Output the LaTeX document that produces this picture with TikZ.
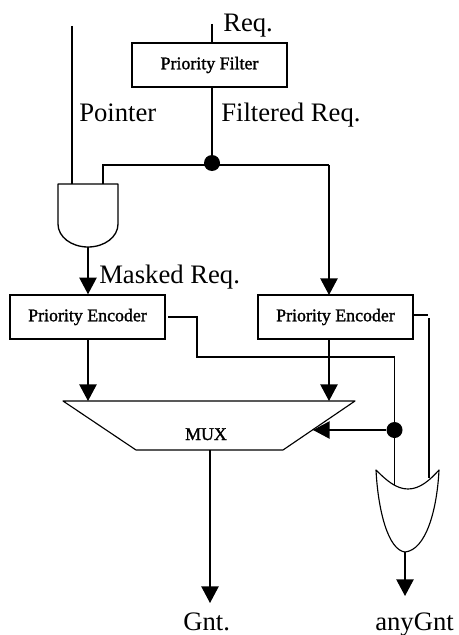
\documentclass[tikz,border=0pt]{standalone}
\usepackage{fontspec}
\setmainfont{Liberation Serif}
\newfontfamily\blockfont[FakeBold=1.5]{Liberation Serif}
\usetikzlibrary{arrows.meta,positioning,calc}
\tikzset{
  >={Triangle[length=12.5pt,width=13pt]},
  wire/.style={line width=1.1pt,color=black},
  flow/.style={wire,->},
  gate/.style={line width=.85pt,line join=round},
  block/.style={draw,line width=1.1pt,minimum width=116pt,minimum height=33pt,inner sep=0pt,font=\blockfont\fontsize{13.4}{15}\selectfont},
  junction/.style={circle,fill=black,minimum size=12pt,inner sep=0pt},
  tag/.style={anchor=base west,inner sep=0pt,font=\fontsize{20}{24}\selectfont},
}

\begin{document}
\begin{tikzpicture}[x=.75pt,y=-.75pt]
  \useasboundingbox (0,0) rectangle (458,635);

  \node[block] (filter) at (209.5,65) {Priority Filter};
  \node[block] (encl) at (87.5,317) {Priority Encoder};
  \node[block] (encr) at (335.5,317) {Priority Encoder};
  \node[anchor=base,inner sep=0pt,font=\blockfont\fontsize{13.4}{15}\selectfont] (muxlabel) at (206,440) {MUX};

  \node[junction] (fork) at (212,163) {};
  \node[junction] (sel) at (394.5,430) {};

  \coordinate (reqtop) at (212,24);
  \coordinate (reqin) at (212,43);
  \coordinate (ptrtop) at (72,26);
  \coordinate (andptr) at (72,184);
  \coordinate (andreq) at (103,184);
  \coordinate (andout) at (88,247);
  \coordinate (forkl) at (103,165);
  \coordinate (forkr) at (329,165);
  \coordinate (encrin) at (329,295);
  \coordinate (muxl) at (88,401);
  \coordinate (muxr) at (329,401);
  \coordinate (encrout) at (329,339);
  \coordinate (muxsel) at (313,430);
  \coordinate (muxout) at (210,450);
  \coordinate (gnt) at (210,603);
  \coordinate (orl) at (394.5,485);
  \coordinate (orr) at (429,478);
  \coordinate (orout) at (405,552);
  \coordinate (anygnt) at (405,596);
  \coordinate (encrtap) at (413,315);

  % gates
  \draw[gate,line width=1pt] (58,184) -- (118,184) -- (118,224)
    .. controls (118,237) and (104.5,247) .. (andout)
    .. controls (71.5,247) and (58,237) .. (58,224) -- cycle;
  \draw[gate] (376,470) .. controls (386,480) and (396,489) .. (408,489)
    .. controls (420,489) and (430,480) .. (439,470)
    .. controls (437,510) and (426,550) .. (orout)
    .. controls (388,550) and (378,510) .. (376,470) -- cycle;
  \draw[gate] (63,401) -- (355,401) -- (283,450) -- (136,450) -- cycle;

  \draw[wire] (reqtop) -- (reqin);
  \draw[wire] (ptrtop) -- (andptr);
  \draw[wire] (filter.south -| reqin) -- (fork);
  \draw[wire] (andreq) -- (forkl) -- (forkr);
  \draw[flow] (forkr) -- (encrin);
  \draw[flow] (andout) -- (andout |- encl.north);
  \draw[flow] (encl.south -| andout) -- (muxl);
  \draw[flow] (encrout) -- (muxr);
  \draw[flow] (muxout) -- (gnt);
  \draw[flow] (sel) -- (muxsel);
  \draw[flow] (orout) -- (anygnt);

  % encoder outputs
  \draw[wire] (168,317) -- (197,317) -- (197,357) -- (394.5,357) -- (orl);
  \draw[wire] (encrtap) -- (428,315);
  \draw[wire] (429,318) -- (orr);

  \node[tag] (reqtag) at (223,32) {Req.};
  \node[tag] (ptrtag) at (79,122) {Pointer};
  \node[tag] (fltag) at (221,122) {Filtered Req.};
  \node[tag] (masktag) at (99,283) {Masked Req.};
  \node[tag] (gnttag) at (183,630) {Gnt.};
  \node[tag] (anytag) at (375,630) {anyGnt};
\end{tikzpicture}
\end{document}
